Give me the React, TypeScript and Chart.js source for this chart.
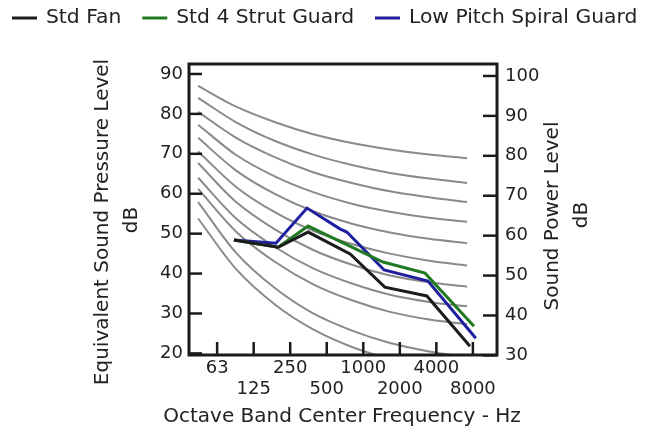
import { useEffect, useRef } from 'react';
import { Chart, registerables } from 'chart.js';

Chart.register(...registerables);

// ---------- data ----------
const bandLabels = ['63', '125', '250', '500', '1000', '2000', '4000', '8000'];
const bandIndex = [0, 1, 2, 3, 4, 5, 6, 7];
const leftTicks = [20, 30, 40, 50, 60, 70, 80, 90];
const rightTicks = [30, 40, 50, 60, 70, 80, 90, 100];

// measured series (x in octave-band index units, y in dB on left axis)
const stdFanX = [0.46, 1.67, 2.49, 3.64, 4.59, 5.74, 6.92];
const stdFanY = [48.4, 46.6, 50.4, 44.9, 36.6, 34.4, 21.8];
const strutGuardX = [0.46, 1.67, 2.49, 4.54, 5.69, 7.03];
const strutGuardY = [48.4, 46.6, 51.9, 42.9, 40.1, 26.8];
const spiralGuardX = [0.46, 1.61, 2.46, 3.36, 3.55, 4.57, 5.77, 7.08];
const spiralGuardY = [48.4, 47.6, 56.4, 51.2, 50.4, 40.9, 38.1, 23.8];

// background criteria curves
const curveX = [-0.52, 0.52, 1.59, 2.63, 3.69, 4.73, 5.8, 6.84];
const curveA = [87.0, 81.8, 77.9, 74.9, 72.7, 71.1, 69.8, 68.9];
const curveB = [84.0, 77.9, 73.2, 69.8, 67.2, 65.2, 63.8, 62.7];
const curveC = [80.5, 74.0, 69.1, 65.4, 62.7, 60.6, 59.1, 57.9];
const curveD = [77.3, 69.7, 64.3, 60.4, 57.5, 55.5, 54.0, 53.0];
const curveE = [74.0, 65.8, 59.9, 55.6, 52.5, 50.3, 48.7, 47.6];
const curveF = [70.6, 61.7, 55.3, 50.7, 47.4, 45.0, 43.2, 42.0];
const curveG = [67.7, 57.9, 51.0, 45.9, 42.2, 39.5, 37.8, 36.7];
const curveH = [64.0, 53.8, 46.6, 41.3, 37.5, 34.7, 32.9, 31.8];
const curveI = [61.2, 50.5, 42.9, 37.3, 33.3, 30.4, 28.5, 27.3];
const curveJ = [57.9, 45.2, 36.3, 30.0, 25.7, 22.6, 20.5, 19.0];
const curveK = [53.8, 41.1, 32.2, 26.0, 21.6, 18.6, 16.4, 14.9];

const seriesNames = ['Std Fan', 'Std 4 Strut Guard', 'Low Pitch Spiral Guard'];
const seriesColors = ['#1c1c1c', '#217a21', '#1f1fa0'];

const xTitle = 'Octave Band Center Frequency - Hz';
const leftTitle = ['Equivalent Sound Pressure Level', 'dB'];
const rightTitle = ['Sound Power Level', 'dB'];

const FONT = "'DejaVu Sans', Verdana, sans-serif";
const TEXT = '#222222';

const pts = (xs: number[], ys: number[]) => xs.map((x, i) => ({ x, y: ys[i] }));

const decorPlugin = {
  id: 'decor',
  afterDatasetsDraw(chart: any) {
    const { ctx, chartArea: a, scales } = chart;
    ctx.save();
    ctx.strokeStyle = '#1a1a1a';
    ctx.lineWidth = 2.5;
    const seg = (x1: number, y1: number, x2: number, y2: number) => {
      ctx.beginPath();
      ctx.moveTo(x1, y1);
      ctx.lineTo(x2, y2);
      ctx.stroke();
    };
    for (const v of leftTicks) {
      const y = scales.y.getPixelForValue(v);
      seg(a.left, y, a.left + 13, y);
    }
    for (const v of rightTicks) {
      const y = scales.y2.getPixelForValue(v);
      seg(a.right - 14, y, a.right, y);
    }
    for (const v of bandIndex) {
      const x = scales.x.getPixelForValue(v);
      seg(x, a.bottom, x, a.bottom - 13);
    }
    ctx.lineWidth = 3;
    ctx.strokeRect(a.left, a.top, a.right - a.left, a.bottom - a.top);
    ctx.restore();
  },
  afterDraw(chart: any) {
    const { ctx } = chart;
    ctx.save();
    ctx.fillStyle = TEXT;
    ctx.textBaseline = 'middle';
    // legend
    ctx.font = `20.3px ${FONT}`;
    let x = 12;
    const ly = 18;
    seriesNames.forEach((name, i) => {
      ctx.strokeStyle = seriesColors[i];
      ctx.lineWidth = 3;
      ctx.beginPath();
      ctx.moveTo(x, ly);
      ctx.lineTo(x + 25, ly);
      ctx.stroke();
      ctx.textAlign = 'left';
      ctx.fillText(name, x + 34, ly);
      x += 34 + ctx.measureText(name).width + 21;
    });
    // axis titles
    ctx.font = `20px ${FONT}`;
    ctx.textAlign = 'center';
    ctx.fillText(xTitle, 342, 417);
    const vtext = (t: string, cx: number, cy: number) => {
      ctx.save();
      ctx.translate(cx, cy);
      ctx.rotate(-Math.PI / 2);
      ctx.textAlign = 'center';
      ctx.fillText(t, 0, 0);
      ctx.restore();
    };
    vtext(leftTitle[0], 103, 222);
    vtext(leftTitle[1], 132, 220);
    vtext(rightTitle[0], 553, 216);
    vtext(rightTitle[1], 582, 215);
    ctx.restore();
  },
};

export default function App() {
  const ref = useRef<HTMLCanvasElement | null>(null);
  useEffect(() => {
    if (!ref.current) return;
    const curves = [curveA, curveB, curveC, curveD, curveE, curveF, curveG, curveH, curveI, curveJ, curveK];
    const seriesX = [stdFanX, strutGuardX, spiralGuardX];
    const seriesY = [stdFanY, strutGuardY, spiralGuardY];
    const datasets: any[] = seriesNames.map((n, i) => ({
      label: n,
      data: pts(seriesX[i], seriesY[i]),
      borderColor: seriesColors[i],
      backgroundColor: seriesColors[i],
      borderWidth: 3,
      pointRadius: 0,
      tension: 0,
      yAxisID: 'y',
    }));
    curves.forEach((c, i) => {
      datasets.push({
        label: 'curve' + i,
        data: pts(curveX, c),
        borderColor: '#8a8a8a',
        borderWidth: 2,
        pointRadius: 0,
        cubicInterpolationMode: 'monotone',
        yAxisID: 'y',
      });
    });
    const tickFont = { family: FONT, size: 18, lineHeight: 1.1667 };
    const chart = new Chart(ref.current, {
      type: 'line',
      data: { datasets },
      options: {
        animation: false,
        responsive: false,
        layout: { padding: { top: 64, left: 0, right: 0, bottom: 0 } },
        plugins: { legend: { display: false }, tooltip: { enabled: false } },
        scales: {
          x: {
            type: 'linear',
            position: 'bottom',
            min: -0.77,
            max: 7.66,
            afterBuildTicks: (s: any) => {
              s.ticks = bandIndex.map((v) => ({ value: v }));
            },
            afterFit: (s: any) => {
              s.height = 74;
            },
            grid: { display: false, drawTicks: false },
            border: { display: false },
            ticks: {
              autoSkip: false,
              maxRotation: 0,
              minRotation: 0,
              padding: 2.5,
              color: TEXT,
              font: tickFont,
              callback: (_v: any, i: number) => (i % 2 === 0 ? bandLabels[i] : ['', bandLabels[i]]),
            },
          },
          y: {
            type: 'linear',
            position: 'left',
            min: 19.6,
            max: 92.5,
            afterBuildTicks: (s: any) => {
              s.ticks = leftTicks.map((v) => ({ value: v }));
            },
            afterFit: (s: any) => {
              s.width = 189;
            },
            grid: { display: false, drawTicks: false },
            border: { display: false },
            ticks: { padding: 6, color: TEXT, font: tickFont },
          },
          y2: {
            type: 'linear',
            axis: 'y',
            position: 'right',
            display: true,
            min: 30.1,
            max: 103,
            afterBuildTicks: (s: any) => {
              s.ticks = rightTicks.map((v) => ({ value: v }));
            },
            afterFit: (s: any) => {
              s.width = 163;
            },
            grid: { display: false, drawTicks: false },
            border: { display: false },
            ticks: { padding: 8, color: TEXT, font: tickFont },
          },
        },
      } as any,
      plugins: [decorPlugin],
    });
    return () => chart.destroy();
  }, []);
  return (
    <div style={{ position: 'fixed', left: 0, top: 0, width: 660, height: 429, background: '#fff' }}>
      <canvas ref={ref} width={660} height={429} style={{ width: 660, height: 429, display: 'block' }} />
    </div>
  );
}
